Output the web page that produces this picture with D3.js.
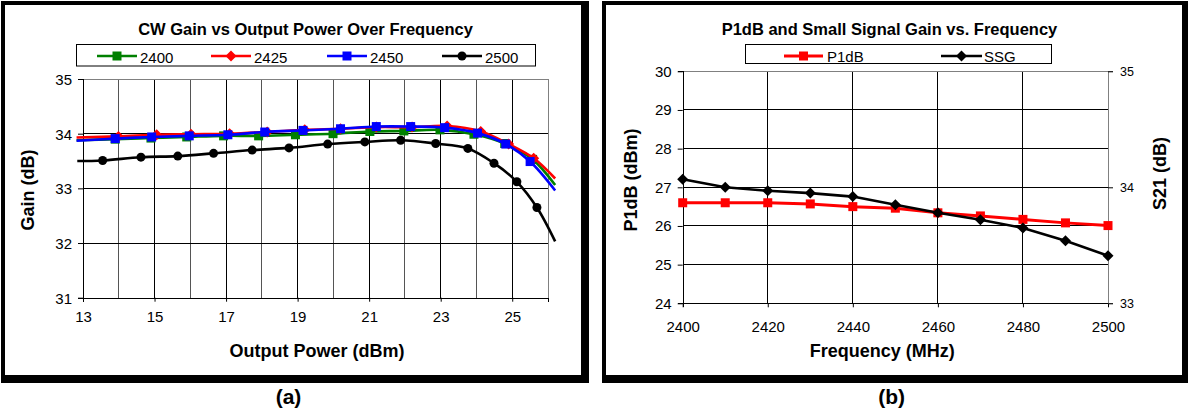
<!DOCTYPE html>
<html><head><meta charset="utf-8">
<script src="https://cdn.jsdelivr.net/npm/d3@7"></script>
<style>body{margin:0;background:#fff}svg{display:block;font-family:"Liberation Sans",Arial,sans-serif}</style>
</head><body><svg id="c" width="1188" height="414"></svg>
<script>
// ---- Panel (a) data ----
const seriesNamesA = ["2400","2425","2450","2500"];
const s2400X = [12.82,13.9,14.9,15.9,16.93,17.91,18.94,19.99,21.02,21.97,22.98,23.93,24.79,25.57,26.2];
const s2400Y = [33.88,33.90,33.92,33.94,33.96,33.96,33.98,34.00,34.04,34.05,34.07,33.99,33.82,33.53,33.06];
const s2425X = [12.82,13.99,15.06,16.02,17.1,18.15,19.2,20.2,21.2,22.2,23.18,24.12,24.9,25.6,26.2];
const s2425Y = [33.93,33.95,33.98,33.99,34.00,34.03,34.07,34.09,34.12,34.12,34.14,34.04,33.81,33.55,33.18];
const s2450X = [12.82,13.9,14.92,15.97,17.05,18.08,19.15,20.2,21.2,22.16,23.11,24.03,24.82,25.5,26.2];
const s2450Y = [33.87,33.91,33.94,33.96,33.98,34.03,34.06,34.09,34.13,34.13,34.11,34.01,33.81,33.49,32.96];
const s2500X = [12.84,13.55,14.62,15.65,16.65,17.73,18.76,19.84,20.88,21.88,22.86,23.76,24.49,25.13,25.69,26.2];
const s2500Y = [33.50,33.51,33.57,33.59,33.64,33.70,33.74,33.81,33.85,33.88,33.82,33.73,33.46,33.12,32.65,32.03];
const xTicksA = [13,15,17,19,21,23,25];
const yTicksA = [31,32,33,34,35];

// ---- Panel (b) data ----
const freqB = [2400,2410,2420,2430,2440,2450,2460,2470,2480,2490,2500];
const p1dbB = [26.60,26.60,26.60,26.57,26.50,26.46,26.34,26.26,26.17,26.08,26.01];
const ssgB  = [34.07,34.00,33.97,33.95,33.92,33.85,33.78,33.72,33.65,33.54,33.41];
const xTicksB = [2400,2420,2440,2460,2480,2500];
const yTicksB = [24,25,26,27,28,29,30];
const y2TicksB = [33,34,35];

const svg = d3.select("#c");
const F = "Liberation Sans, Arial, sans-serif";

// frames
function frame(x0,y0,x1,y1,l,t,r,b){
  svg.append("rect").attr("x",x0).attr("y",y0).attr("width",x1-x0).attr("height",y1-y0).attr("fill","#000");
  svg.append("rect").attr("x",x0+l).attr("y",y0+t).attr("width",x1-x0-l-r).attr("height",y1-y0-t-b).attr("fill","#fff");
}
frame(1,1,589,383,4,4,8,8);
frame(602,1,1188,383,4,4,6,8);

function marker(g, type, color, x, y){
  if(type==="square") g.append("rect").attr("x",x-4.5).attr("y",y-4.5).attr("width",9).attr("height",9).attr("fill",color);
  else if(type==="diamond") g.append("path").attr("d",`M${x},${y-5.5}L${x+5.5},${y}L${x},${y+5.5}L${x-5.5},${y}Z`).attr("fill",color);
  else if(type==="circle") g.append("circle").attr("cx",x).attr("cy",y).attr("r",4.5).attr("fill",color);
}

// ================= Panel (a) =================
{
  const x = d3.scaleLinear().domain([13,26]).range([83,548]);
  const y = d3.scaleLinear().domain([31,35]).range([297.7,79]);
  const g = svg.append("g");
  // grid
  d3.range(14,26).forEach(v=>g.append("line").attr("x1",x(v)).attr("x2",x(v)).attr("y1",y(35)).attr("y2",y(31)).attr("stroke",v%2?"#000":"#555").attr("stroke-width",1).attr("shape-rendering","crispEdges"));
  [32,33,34].forEach(v=>g.append("line").attr("x1",x(13)).attr("x2",x(26)).attr("y1",y(v)).attr("y2",y(v)).attr("stroke","#000").attr("shape-rendering","crispEdges"));
  g.append("line").attr("x1",x(13)).attr("x2",x(26)).attr("y1",y(35)).attr("y2",y(35)).attr("stroke","#808080").attr("shape-rendering","crispEdges");
  g.append("line").attr("x1",x(26)).attr("x2",x(26)).attr("y1",y(35)).attr("y2",y(31)).attr("stroke","#808080").attr("shape-rendering","crispEdges");
  // axes
  const ax = g.append("g").attr("transform",`translate(0,${y(31)})`).call(d3.axisBottom(x).tickValues(xTicksA).tickSize(4).tickPadding(10).tickFormat(d3.format("d")));
  const ay = g.append("g").attr("transform",`translate(${x(13)},0)`).call(d3.axisLeft(y).tickValues(yTicksA).tickSize(5).tickPadding(6).tickFormat(d3.format("d")));
  [ax,ay].forEach(a=>{a.select(".domain").attr("stroke","#000").attr("shape-rendering","crispEdges");a.selectAll(".tick line").attr("stroke","#000");a.selectAll("text").attr("font-family",F).attr("font-size",15).attr("fill","#000");});
  ay.selectAll("text").attr("dy","0.36em");
  // series
  const defs = [
    {xs:s2400X, ys:s2400Y, c:"#008000", m:"square"},
    {xs:s2425X, ys:s2425Y, c:"#ff0000", m:"diamond"},
    {xs:s2450X, ys:s2450Y, c:"#0000ff", m:"square"},
    {xs:s2500X, ys:s2500Y, c:"#000000", m:"circle"}
  ];
  const line = d3.line().x(d=>x(d[0])).y(d=>y(d[1])).curve(d3.curveCatmullRom.alpha(0.5));
  defs.forEach(s=>{
    const pts = s.xs.map((v,i)=>[v,s.ys[i]]);
    g.append("path").attr("d",line(pts)).attr("fill","none").attr("stroke",s.c).attr("stroke-width",2.6);
    pts.forEach(p=>{ if(p[0]>=13 && p[0]<=26) marker(g,s.m,s.c,x(p[0]),y(p[1])); });
  });
  // title
  svg.append("text").attr("x",305.5).attr("y",35).attr("text-anchor","middle").attr("font-family",F).attr("font-weight","bold").attr("font-size",16.5).text("CW Gain vs Output Power Over Frequency");
  // legend
  svg.append("rect").attr("x",76.5).attr("y",44.5).attr("width",459).attr("height",21.5).attr("fill","#fff").attr("stroke","#000").attr("stroke-width",1);
  const lx = [97,211,327,442];
  defs.forEach((s,i)=>{
    svg.append("line").attr("x1",lx[i]).attr("x2",lx[i]+40).attr("y1",56).attr("y2",56).attr("stroke",s.c).attr("stroke-width",2.6);
    marker(svg,s.m,s.c,lx[i]+20,56);
    svg.append("text").attr("x",lx[i]+43).attr("y",62.5).attr("font-family",F).attr("font-size",15).text(seriesNamesA[i]);
  });
  // axis titles
  svg.append("text").attr("x",317).attr("y",357).attr("text-anchor","middle").attr("font-family",F).attr("font-weight","bold").attr("font-size",18).text("Output Power (dBm)");
  svg.append("text").attr("transform","translate(34,190) rotate(-90)").attr("text-anchor","middle").attr("font-family",F).attr("font-weight","bold").attr("font-size",18).text("Gain (dB)");
  svg.append("text").attr("x",288.5).attr("y",404).attr("text-anchor","middle").attr("font-family",F).attr("font-weight","bold").attr("font-size",21).text("(a)");
}

// ================= Panel (b) =================
{
  const x = d3.scaleLinear().domain([2400,2500]).range([682.7,1108]);
  const y = d3.scaleLinear().domain([24,30]).range([303.3,71.3]);
  const y2 = d3.scaleLinear().domain([33,35]).range([303.3,71.3]);
  const g = svg.append("g");
  [2420,2440,2460,2480].forEach(v=>g.append("line").attr("x1",x(v)).attr("x2",x(v)).attr("y1",y(30)).attr("y2",y(24)).attr("stroke","#000").attr("shape-rendering","crispEdges"));
  [25,26,27,28,29].forEach(v=>g.append("line").attr("x1",x(2400)).attr("x2",x(2500)).attr("y1",y(v)).attr("y2",y(v)).attr("stroke","#000").attr("shape-rendering","crispEdges"));
  g.append("line").attr("x1",x(2400)).attr("x2",x(2500)).attr("y1",y(30)).attr("y2",y(30)).attr("stroke","#808080").attr("shape-rendering","crispEdges");
  const ax = g.append("g").attr("transform",`translate(0,${y(24)})`).call(d3.axisBottom(x).tickValues(xTicksB).tickSize(4).tickPadding(14).tickFormat(d3.format("d")));
  const ay = g.append("g").attr("transform",`translate(${x(2400)},0)`).call(d3.axisLeft(y).tickValues(yTicksB).tickSize(5).tickPadding(6).tickFormat(d3.format("d")));
  const ay2 = g.append("g").attr("transform",`translate(${x(2500)},0)`).call(d3.axisRight(y2).tickValues(y2TicksB).tickSize(5).tickPadding(7).tickFormat(d3.format("d")));
  [ax,ay,ay2].forEach(a=>{a.select(".domain").attr("stroke","#000").attr("shape-rendering","crispEdges");a.selectAll(".tick line").attr("stroke","#000");a.selectAll("text").attr("font-family",F).attr("font-size",15).attr("fill","#000");});
  ay2.select(".domain").attr("stroke","#808080");
  ay2.selectAll("text").attr("font-size",12.5);
  const line = d3.line();
  const pP = freqB.map((f,i)=>[x(f),y(p1dbB[i])]);
  const pS = freqB.map((f,i)=>[x(f),y2(ssgB[i])]);
  g.append("path").attr("d",line(pP)).attr("fill","none").attr("stroke","#ff0000").attr("stroke-width",3);
  pP.forEach(p=>marker(g,"square","#ff0000",p[0],p[1]));
  g.append("path").attr("d",line(pS)).attr("fill","none").attr("stroke","#000").attr("stroke-width",2.6);
  pS.forEach(p=>marker(g,"diamond","#000",p[0],p[1]));
  svg.append("text").attr("x",889.5).attr("y",35).attr("text-anchor","middle").attr("font-family",F).attr("font-weight","bold").attr("font-size",16.5).text("P1dB and Small Signal Gain vs. Frequency");
  svg.append("rect").attr("x",745.5).attr("y",44.5).attr("width",306).attr("height",19).attr("fill","#fff").attr("stroke","#000").attr("stroke-width",1);
  svg.append("line").attr("x1",784).attr("x2",823).attr("y1",56).attr("y2",56).attr("stroke","#ff0000").attr("stroke-width",3);
  marker(svg,"square","#ff0000",803.5,56);
  svg.append("text").attr("x",827).attr("y",61.5).attr("font-family",F).attr("font-size",15).text("P1dB");
  svg.append("line").attr("x1",941).attr("x2",982).attr("y1",56).attr("y2",56).attr("stroke","#000").attr("stroke-width",2.6);
  marker(svg,"diamond","#000",961.5,56);
  svg.append("text").attr("x",984).attr("y",61.5).attr("font-family",F).attr("font-size",15).text("SSG");
  svg.append("text").attr("x",882.3).attr("y",357).attr("text-anchor","middle").attr("font-family",F).attr("font-weight","bold").attr("font-size",18).text("Frequency (MHz)");
  svg.append("text").attr("transform","translate(637,180) rotate(-90)").attr("text-anchor","middle").attr("font-family",F).attr("font-weight","bold").attr("font-size",18).text("P1dB (dBm)");
  svg.append("text").attr("transform","translate(1166,173.5) rotate(-90)").attr("text-anchor","middle").attr("font-family",F).attr("font-weight","bold").attr("font-size",18).text("S21 (dB)");
  svg.append("text").attr("x",891.7).attr("y",404).attr("text-anchor","middle").attr("font-family",F).attr("font-weight","bold").attr("font-size",21).text("(b)");
}
</script></body></html>
